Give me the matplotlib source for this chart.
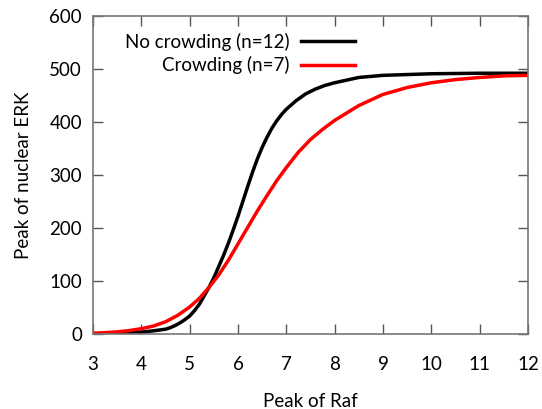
import matplotlib
matplotlib.use("Agg")
import matplotlib.pyplot as plt

plt.rcParams['font.family'] = ['Lato', 'DejaVu Sans']

# values
raf_black = [3.0, 3.25, 3.5, 3.75, 4.0, 4.25, 4.5, 4.6, 4.7, 4.8, 4.9, 5.0,
             5.1, 5.2, 5.3, 5.4, 5.5, 5.6, 5.7, 5.8, 5.9, 6.0, 6.1, 6.2,
             6.3, 6.4, 6.5, 6.6, 6.7, 6.8, 6.9, 7.0, 7.2, 7.4, 7.6, 7.8,
             8.0, 8.5, 9.0, 10.0, 11.0, 12.0]
erk_black = [0, 0.3, 0.8, 2, 3.5, 6, 9, 12, 16, 21, 27, 34,
             44, 56, 72, 88, 106, 127, 148, 171, 196, 222, 250, 278,
             305, 330, 352, 371, 388, 402, 414, 424, 440, 453, 462, 469,
             474, 484, 488, 491, 492, 492]

raf_red = [3.0, 3.25, 3.5, 3.75, 4.0, 4.25, 4.5, 4.75, 5.0, 5.2, 5.4, 5.6,
           5.8, 6.0, 6.2, 6.4, 6.6, 6.8, 7.0, 7.25, 7.5, 7.75, 8.0, 8.5,
           9.0, 9.5, 10.0, 10.5, 11.0, 11.5, 12.0]
erk_red = [1.5, 2.5, 4, 6.5, 10, 15, 23, 35, 51, 67, 88, 111,
           139, 170, 201, 232, 261, 289, 314, 343, 367, 386, 403, 431,
           452, 465, 474, 480, 484, 487, 488]

fig = plt.figure(figsize=(5.42, 4.09), dpi=100)
ax = fig.add_axes([0.1716, 0.1834, 0.8024, 0.7775])

ax.plot(raf_black, erk_black, color='black', lw=2.5, label='No crowding (n=12)')
ax.plot(raf_red, erk_red, color='#ff0000', lw=2.5, label='Crowding (n=7)')

ax.set_xlim(3, 12)
ax.set_ylim(0, 600)
ax.set_xticks(range(3, 13))
ax.set_yticks(range(0, 601, 100))

for s in ax.spines.values():
    s.set_color('#777777')
    s.set_linewidth(1.2)
ax.tick_params(direction='in', length=7, width=1, color='#555555',
               top=True, right=True, labelsize=13.5)
ax.tick_params(axis='x', pad=16)
ax.tick_params(axis='y', pad=8)

ax.set_xlabel('Peak of Raf', fontsize=13.5, labelpad=14)
ax.set_ylabel('Peak of nuclear ERK', fontsize=13.5, labelpad=12)

ax.legend(loc='upper right', bbox_to_anchor=(0.642, 1.0), frameon=False,
          markerfirst=False, fontsize=13.5, handlelength=2.9,
          labelspacing=0.28, handletextpad=0.6)
for t in ax.get_legend().get_texts():
    t.set_ha('right')
ax.get_legend()._legend_box.align = 'right'

fig.savefig('out.png', dpi=100)
